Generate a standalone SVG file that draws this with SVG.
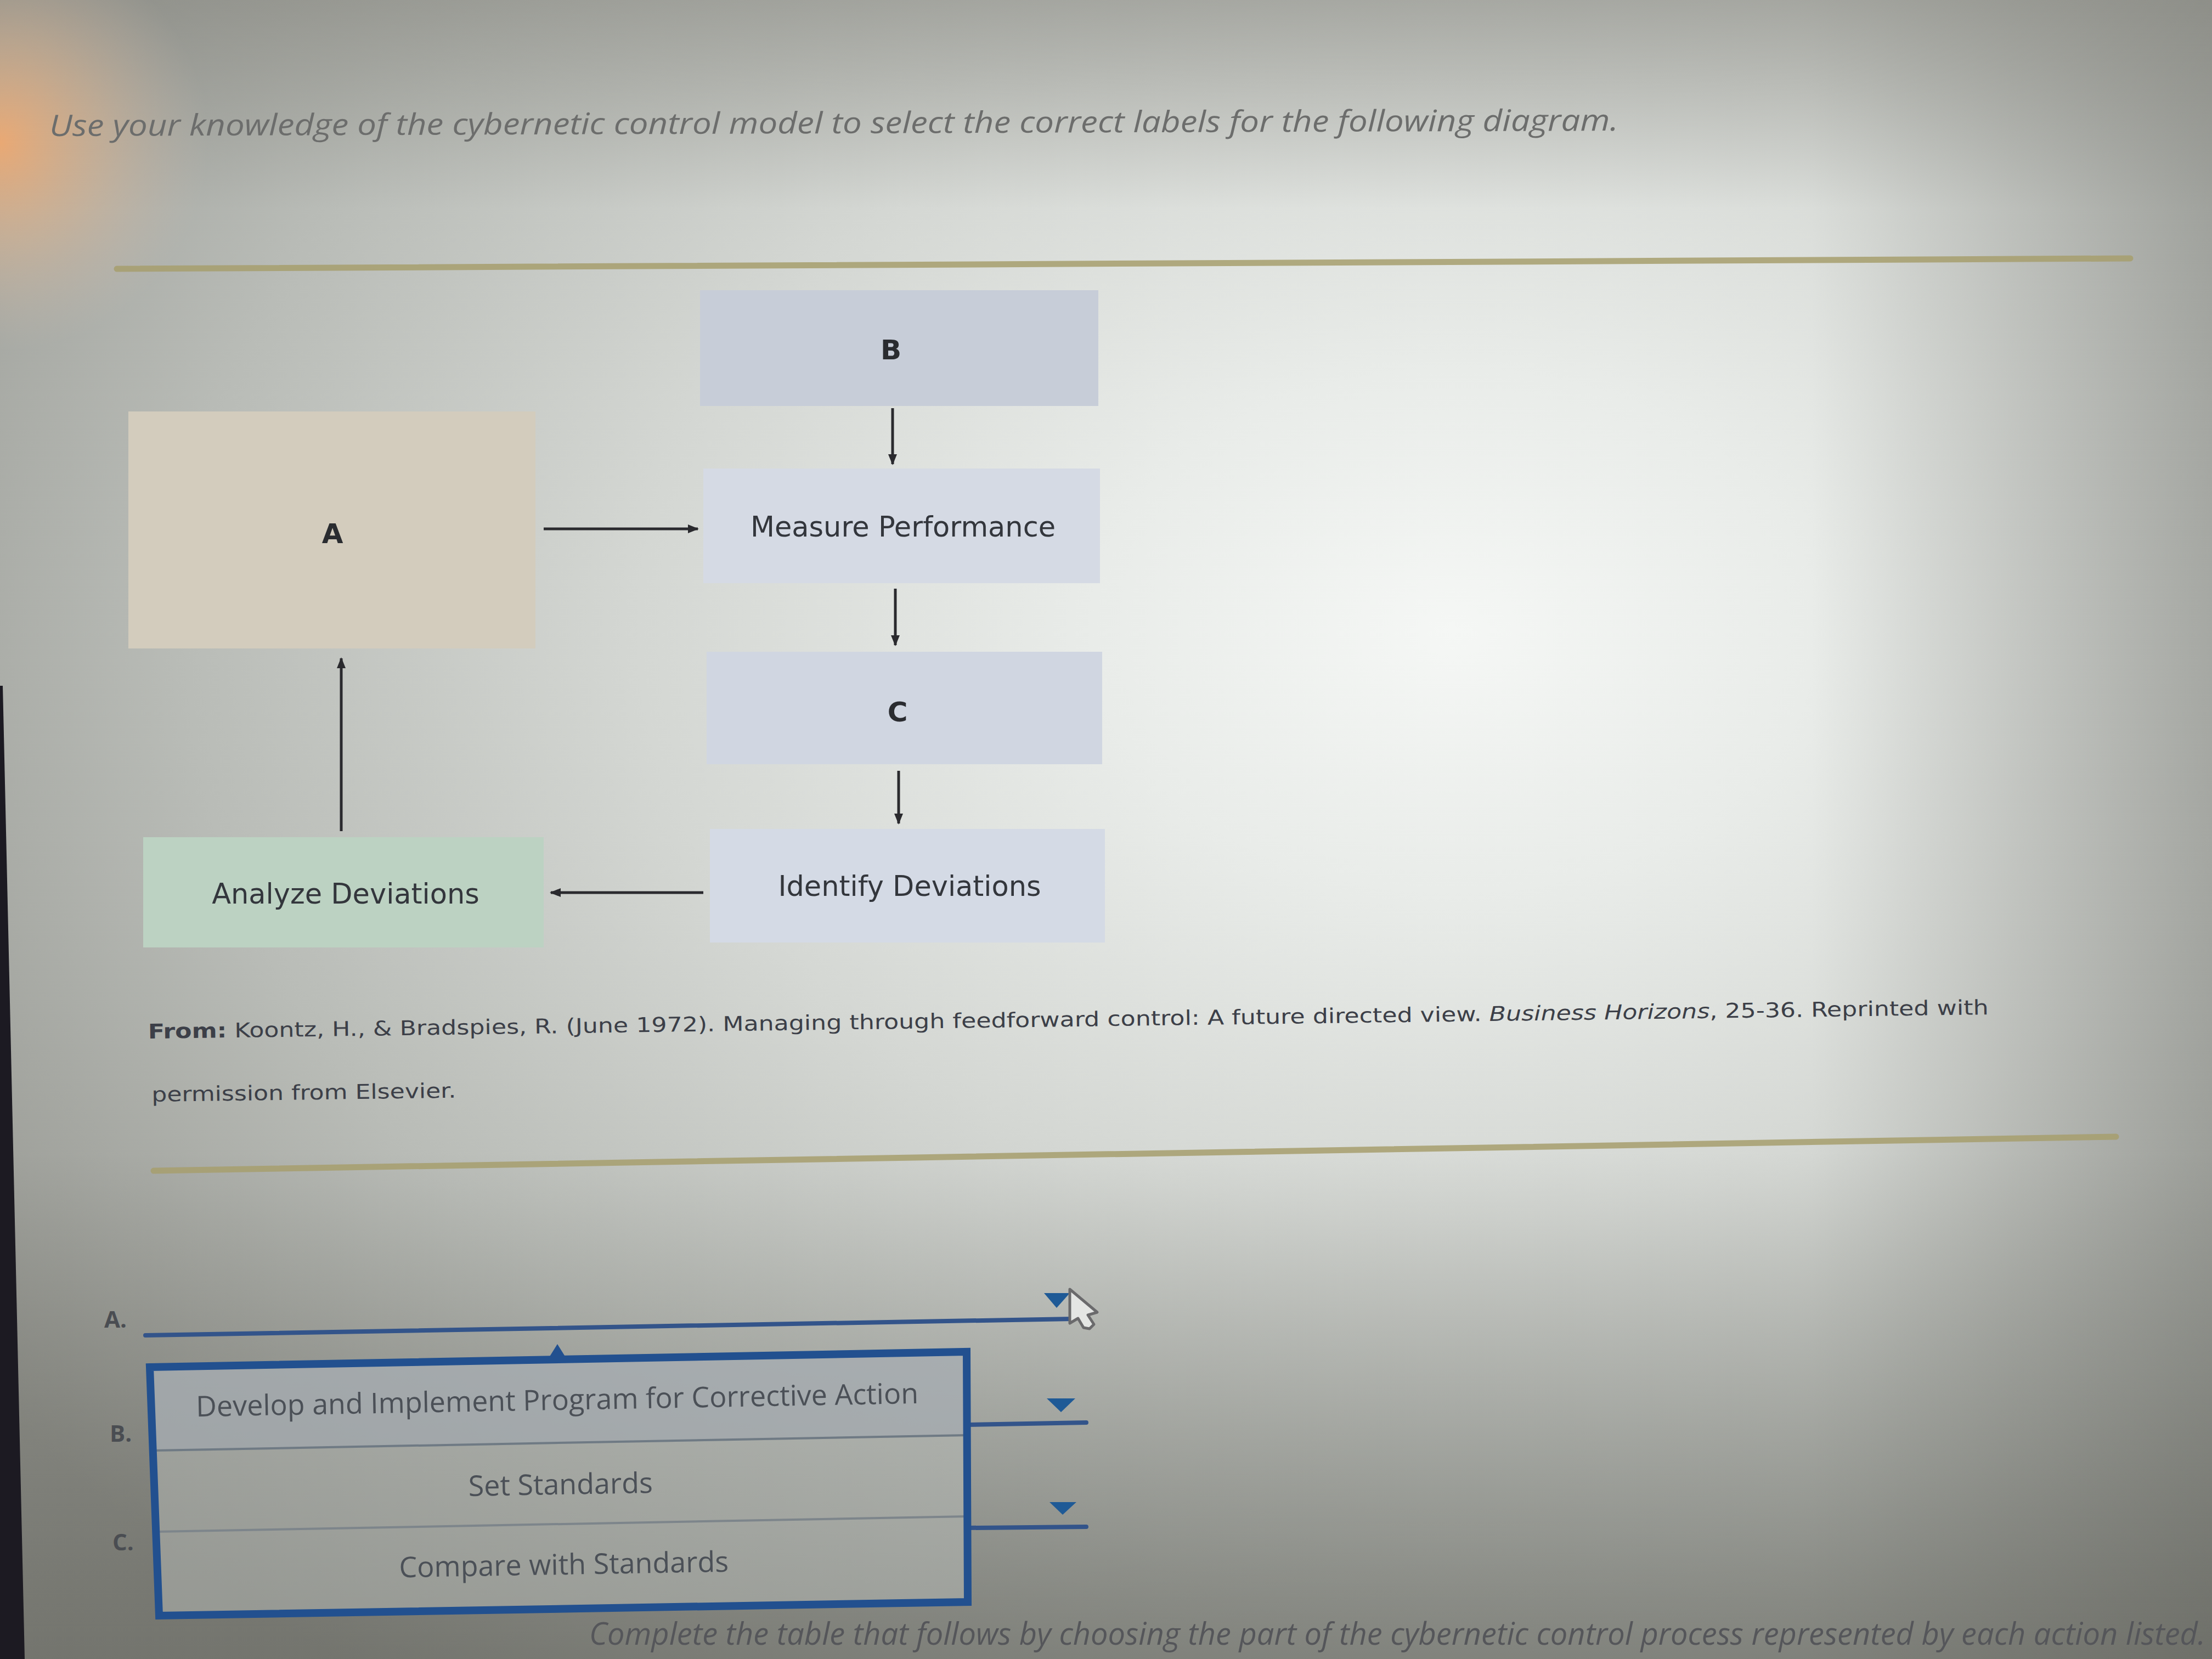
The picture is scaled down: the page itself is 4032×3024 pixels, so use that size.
<svg xmlns="http://www.w3.org/2000/svg" width="4032" height="3024" viewBox="0 0 4032 3024">
<defs>
  <radialGradient id="glow" cx="2650" cy="1150" r="3300" gradientUnits="userSpaceOnUse" gradientTransform="translate(2650 1150) scale(1 0.72) translate(-2650 -1150)">
    <stop offset="0" stop-color="#f5f7f5"/>
    <stop offset="0.2" stop-color="#e9ece9"/>
    <stop offset="0.45" stop-color="#d4d7d3"/>
    <stop offset="0.7" stop-color="#b9bcb7"/>
    <stop offset="1" stop-color="#92938d"/>
  </radialGradient>
  <radialGradient id="peach" cx="0" cy="260" r="380" gradientUnits="userSpaceOnUse">
    <stop offset="0" stop-color="#f2aa70" stop-opacity="0.9"/>
    <stop offset="0.5" stop-color="#e4b890" stop-opacity="0.45"/>
    <stop offset="1" stop-color="#d0c0b0" stop-opacity="0"/>
  </radialGradient>
  <linearGradient id="shadeBottom" x1="0" y1="2100" x2="0" y2="3024" gradientUnits="userSpaceOnUse">
    <stop offset="0" stop-color="#55564f" stop-opacity="0"/>
    <stop offset="1" stop-color="#55564f" stop-opacity="0.5"/>
  </linearGradient>
  <linearGradient id="shadeTop" x1="0" y1="0" x2="0" y2="380" gradientUnits="userSpaceOnUse">
    <stop offset="0" stop-color="#85857e" stop-opacity="0.55"/>
    <stop offset="1" stop-color="#85857e" stop-opacity="0"/>
  </linearGradient>
  <linearGradient id="shadeRight" x1="3300" y1="0" x2="4032" y2="0" gradientUnits="userSpaceOnUse">
    <stop offset="0" stop-color="#6a6b65" stop-opacity="0"/>
    <stop offset="1" stop-color="#6a6b65" stop-opacity="0.45"/>
  </linearGradient>
  <marker id="arr" viewBox="0 0 10 10" refX="9" refY="5" markerWidth="4" markerHeight="4" orient="auto" markerUnits="strokeWidth">
    <path d="M0,1 L10,5 L0,9 Z" fill="#2a2a2e"/>
  </marker>
  <style>
    .box-text { font-family: "DejaVu Sans", Verdana, sans-serif; font-size: 51px; fill: #33363c; text-anchor: middle; }
    .box-letter { font-family: "DejaVu Sans", Verdana, sans-serif; font-size: 50px; font-weight: bold; fill: #2a2c30; text-anchor: middle; }
    .conn { stroke: #2a2a2e; stroke-width: 5; fill: none; marker-end: url(#arr); }
    .rule { stroke: #a79f6e; stroke-width: 11; stroke-linecap: round; opacity: 0.85; }
    .caption { font-family: "DejaVu Sans", Verdana, sans-serif; font-size: 37px; fill: #3c3f48; }
    .opt { font-family: "Open Sans", "Liberation Sans", sans-serif; font-size: 52px; fill: #4b5057; text-anchor: middle; }
    .lbl { font-family: "Open Sans", "Liberation Sans", sans-serif; font-size: 42px; font-weight: bold; fill: #4a4d52; }
    .ddline { stroke: #33548a; stroke-width: 8; stroke-linecap: round; }
    .tri { fill: #1f5a96; }
  </style>
</defs>

<!-- background / lighting -->
<rect x="0" y="0" width="4032" height="3024" fill="url(#glow)"/>
<rect x="0" y="0" width="4032" height="3024" fill="url(#shadeRight)"/>
<rect x="0" y="0" width="4032" height="380" fill="url(#shadeTop)"/>
<rect x="0" y="0" width="4032" height="3024" fill="url(#shadeBottom)"/>
<rect x="0" y="0" width="500" height="700" fill="url(#peach)"/>
<polygon points="0,1250 5,1250 45,3024 0,3024" fill="#1c1a22"/>

<!-- header -->
<text x="90" y="248" font-family="'Open Sans', 'Liberation Sans', sans-serif" font-style="italic" font-size="54" fill="#6c6d6c" textLength="2860" lengthAdjust="spacingAndGlyphs" transform="rotate(-0.2 90 248)">Use your knowledge of the cybernetic control model to select the correct labels for the following diagram.</text>

<line class="rule" x1="213" y1="490" x2="3883" y2="471"/>

<!-- nodes -->
<g id="nodeB">
  <rect x="1276" y="529" width="726" height="211" fill="#c7cdd8"/>
  <text class="box-letter" x="1624" y="655">B</text>
</g>
<g id="nodeA">
  <rect x="234" y="750" width="742" height="432" fill="#d3ccbd"/>
  <text class="box-letter" x="606" y="990">A</text>
</g>
<g id="nodeMeasure">
  <rect x="1282" y="854" width="723" height="209" fill="#d5dae4"/>
  <text class="box-text" x="1646" y="978">Measure Performance</text>
</g>
<g id="nodeC">
  <rect x="1288" y="1188" width="721" height="205" fill="#d0d6e1"/>
  <text class="box-letter" x="1636" y="1315">C</text>
</g>
<g id="nodeIdentify">
  <rect x="1294" y="1511" width="720" height="207" fill="#d4dae5"/>
  <text class="box-text" x="1658" y="1633">Identify Deviations</text>
</g>
<g id="nodeAnalyze">
  <rect x="261" y="1526" width="730" height="201" fill="#bcd2c2"/>
  <text class="box-text" x="630" y="1647" fill="#3a3d3e">Analyze Deviations</text>
</g>

<!-- connectors -->
<g id="connectors">
  <line class="conn" x1="1627" y1="744" x2="1627" y2="846"/>
  <line class="conn" x1="991" y1="964" x2="1272" y2="964"/>
  <line class="conn" x1="1632" y1="1073" x2="1632" y2="1176"/>
  <line class="conn" x1="1638" y1="1405" x2="1638" y2="1501"/>
  <line class="conn" x1="1282" y1="1627" x2="1004" y2="1627"/>
  <line class="conn" x1="622" y1="1515" x2="622" y2="1200"/>
</g>

<!-- caption -->
<g transform="rotate(-0.75 270 1893)">
  <text class="caption" x="270" y="1893" textLength="3355" lengthAdjust="spacingAndGlyphs"><tspan font-weight="bold">From:</tspan> Koontz, H., &amp; Bradspies, R. (June 1972). Managing through feedforward control: A future directed view. <tspan font-style="italic">Business Horizons</tspan>, 25-36. Reprinted with</text>
  <text class="caption" x="275" y="2008" textLength="555" lengthAdjust="spacingAndGlyphs">permission from Elsevier.</text>
</g>

<line class="rule" x1="280" y1="2134" x2="3857" y2="2072"/>

<!-- answer dropdowns -->
<g id="dropdowns">
  <text class="lbl" x="190" y="2420">A.</text>
  <line class="ddline" x1="265" y1="2434" x2="1955" y2="2404"/>
  <polygon class="tri" points="1903,2357 1950,2357 1926,2384"/>

  <text class="lbl" x="200" y="2628">B.</text>
  <line class="ddline" x1="1765" y1="2597" x2="1980" y2="2593"/>
  <polygon class="tri" points="1908,2549 1960,2549 1934,2574"/>

  <text class="lbl" x="205" y="2826">C.</text>
  <line class="ddline" x1="1765" y1="2785" x2="1980" y2="2783"/>
  <polygon class="tri" points="1913,2738 1962,2738 1937,2761"/>

  <!-- open list -->
  <g id="optionList">
    <polygon points="273,2492 1762,2464 1764,2618 280,2646" fill="#a6adb2" opacity="0.8"/>
    <polygon points="280,2646 1764,2618 1764,2920 290,2945" fill="#b8bbb7" opacity="0.5"/>
    <line x1="280" y1="2644" x2="1764" y2="2616" stroke="#6f7a84" stroke-width="4"/>
    <line x1="285" y1="2792" x2="1764" y2="2764" stroke="#7d858b" stroke-width="4"/>
    <polygon points="273,2492 1762,2464 1764,2920 290,2945" fill="none" stroke="#22508f" stroke-width="14" stroke-linejoin="miter"/>
    <polygon points="996,2482 1016,2450 1036,2482" fill="#22508f"/>
    <text class="opt" x="1016" y="2570" transform="rotate(-1.05 1016 2570)">Develop and Implement Program for Corrective Action</text>
    <text class="opt" x="1022" y="2724" transform="rotate(-1 1022 2724)">Set Standards</text>
    <text class="opt" x="1028" y="2870" transform="rotate(-1 1028 2870)">Compare with Standards</text>
  </g>

  <!-- mouse cursor -->
  <path d="M1950,2350 L2000,2392 L1983,2397 L1994,2414 L1986,2422 L1975,2420 L1965,2403 L1950,2412 Z" fill="#e4e6e4" stroke="#6a6a6c" stroke-width="5" stroke-linejoin="round"/>
</g>

<!-- bottom instruction -->
<text x="4020" y="2998" text-anchor="end" font-family="'Open Sans', 'Liberation Sans', sans-serif" font-style="italic" font-size="56" fill="#55565a">Complete the table that follows by choosing the part of the cybernetic control process represented by each action listed.</text>
</svg>
